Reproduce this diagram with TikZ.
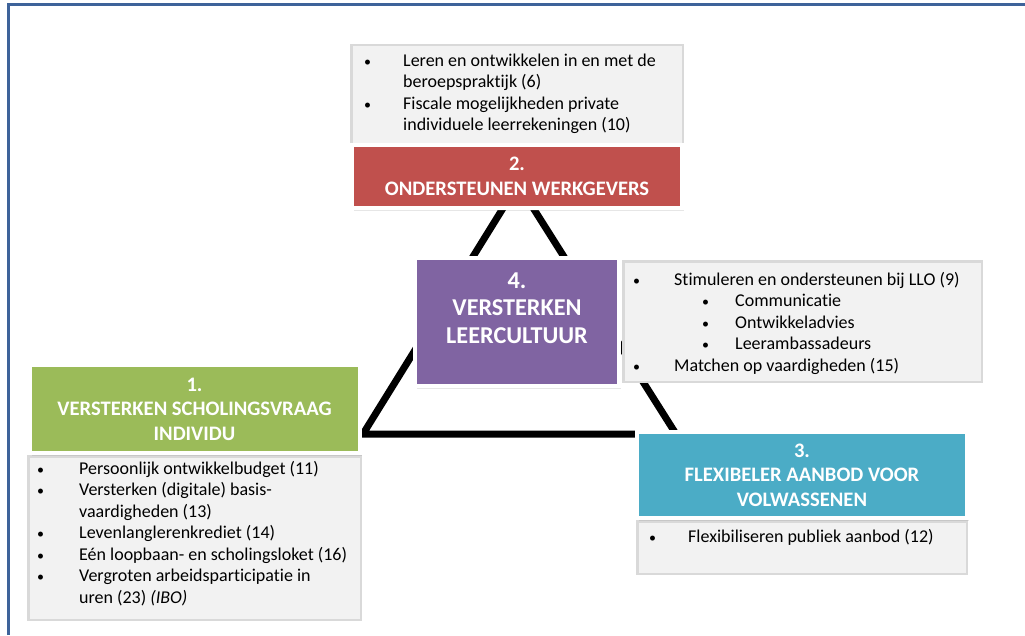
\documentclass[tikz,border=0pt]{standalone}
\usepackage{fontspec}
\setmainfont{Carlito}[Ligatures=NoCommon]
\usetikzlibrary{positioning, shadows}

\definecolor{headred}{HTML}{C0504D}
\definecolor{headpurple}{HTML}{8064A2}
\definecolor{headgreen}{HTML}{9BBB59}
\definecolor{headblue}{HTML}{4BACC6}
\definecolor{listfill}{HTML}{F2F2F2}
\definecolor{listline}{HTML}{D9D9D9}
\definecolor{frameblue}{HTML}{3E639A}

\newcommand{\listbullet}{{\fontsize{14}{14}\selectfont\textbullet}}

\tikzset{
  header/.style={draw=white, line width=4pt, outer sep=0pt, inner sep=0pt, text=white,
    align=center, minimum width=330pt, font=\bfseries\fontsize{20.6}{24.5}\selectfont,
    drop shadow={opacity=.2, shadow xshift=2pt, shadow yshift=-3pt}},
  listbox/.style={fill=listfill, draw=listline, line width=2.5pt, outer sep=0pt, inner sep=0pt},
  listtext/.style={anchor=north west, inner sep=0pt, font=\fontsize{18}{21.5}\selectfont},
}

\begin{document}
\begin{tikzpicture}[x=1pt, y=-1pt]
\useasboundingbox (0,0) rectangle (1025,635);
\draw[frameblue, line width=3pt] (8,635) -- (8,4.5) -- (1025,4.5);

% triangle behind the four themes
\coordinate (apex) at (518,184);
\coordinate (leftcorner) at (363,434);
\coordinate (rightcorner) at (676,434);
\draw[line width=7pt] (apex) -- (leftcorner) -- (rightcorner) -- cycle;

% 2. werkgevers
\node[listbox, minimum width=331.5pt, minimum height=99.75pt] (werkgeverslist) at (517,95.1) {};
\node[listtext] (werkgeverstext) at (364,51) {\begin{tabular}{@{}p{39pt}@{}l@{}}
    \listbullet & Leren en ontwikkelen in en met de \\
     & beroepspraktijk (6) \\
    \listbullet & Fiscale mogelijkheden private \\
     & individuele leerrekeningen (10)
  \end{tabular}};
\node[header, fill=headred, minimum height=63pt, below=0pt of werkgeverslist] (werkgevers) {2.\\ONDERSTEUNEN WERKGEVERS};

% 4. leercultuur
\node[header, fill=headpurple, minimum width=204pt, minimum height=127.5pt,
  font=\bfseries\fontsize{24.2}{27.5}\selectfont] (leercultuur) at (517,321.75) {4.\\VERSTERKEN\\LEERCULTUUR\\\mbox{}};
\node[listbox, minimum width=358.5pt, minimum height=120.5pt, right=4.25pt of leercultuur] (leercultuurlist) {};
\node[listtext] (leercultuurtext) at (633,270) {\begin{tabular}{@{}p{41pt}@{}l@{}}
    \listbullet & Stimuleren en ondersteunen bij LLO (9) \\
     & \hspace{28pt}\makebox[33pt][l]{\listbullet}Communicatie \\
     & \hspace{28pt}\makebox[33pt][l]{\listbullet}Ontwikkeladvies \\
     & \hspace{28pt}\makebox[33pt][l]{\listbullet}Leerambassadeurs \\
    \listbullet & Matchen op vaardigheden (15)
  \end{tabular}};

% 1. individu
\node[listbox, minimum width=332.5pt, minimum height=163.5pt] (individulist) at (194.5,538) {};
\node[listtext] (individutext) at (37,459) {\begin{tabular}{@{}p{42pt}@{}l@{}}
    \listbullet & Persoonlijk ontwikkelbudget (11) \\
    \listbullet & Versterken (digitale) basis- \\
     & vaardigheden (13) \\
    \listbullet & Levenlanglerenkrediet (14) \\
    \listbullet & Eén loopbaan- en scholingsloket (16) \\
    \listbullet & Vergroten arbeidsparticipatie in \\
     & uren (23) \textit{(IBO)}
  \end{tabular}};
\node[header, fill=headgreen, minimum height=88pt, above=3.25pt of individulist] (individu) {1.\\VERSTERKEN SCHOLINGSVRAAG\\INDIVIDU};

% 3. aanbod
\node[listbox, minimum width=329.5pt, minimum height=52.5pt] (aanbodlist) at (802,547.5) {};
\node[listtext] (aanbodtext) at (649,527) {\begin{tabular}{@{}p{39pt}@{}l@{}}
    \listbullet & Flexibiliseren publiek aanbod (12)
  \end{tabular}};
\node[header, fill=headblue, minimum height=86pt, above=3.25pt of aanbodlist] (aanbod) {3.\\FLEXIBELER AANBOD VOOR\\VOLWASSENEN};
\end{tikzpicture}
\end{document}
